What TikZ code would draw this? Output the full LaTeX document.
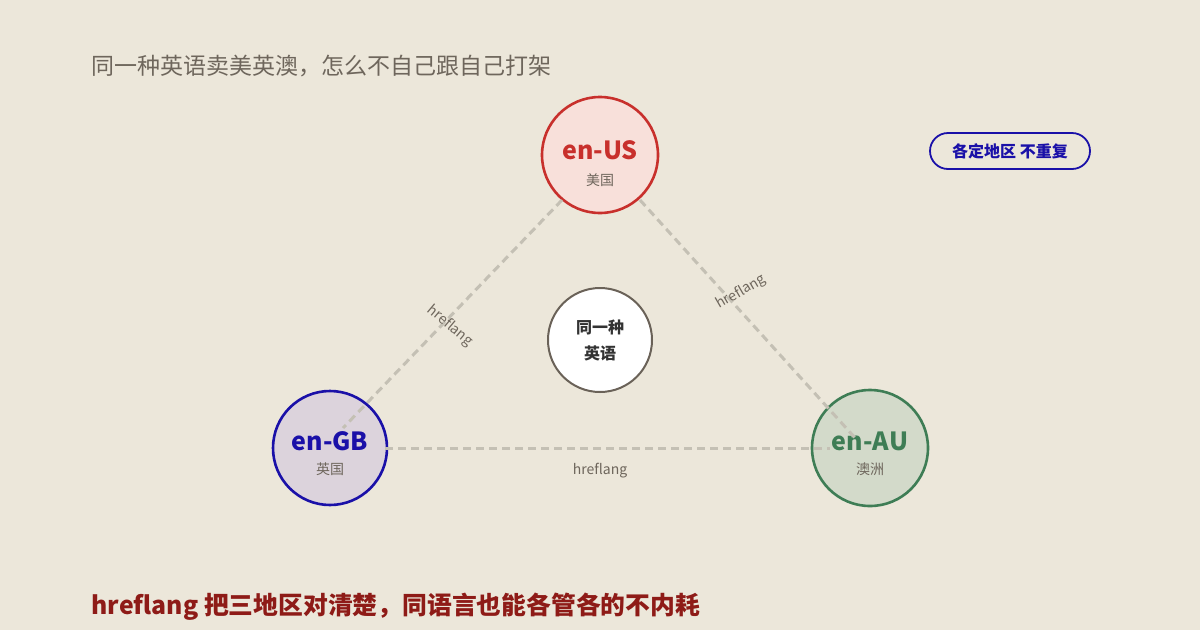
\documentclass[tikz,border=0pt]{standalone}
\usepackage{fontspec}
\setmainfont{Noto Sans CJK SC}
\begin{document}
\begin{tikzpicture}[x=1pt,y=-1pt,
  circ/.style={circle,line width=2.6pt,minimum size=#1,inner sep=0pt,align=center},
  link/.style={draw=linkc,line width=3pt,dash pattern=on 8pt off 5pt},
  lab/.style={text=labc,font=\fontsize{14}{16}\selectfont}]
\definecolor{bg}{HTML}{ECE7DA}
\definecolor{linkc}{HTML}{C4C0B4}
\definecolor{labc}{HTML}{6E665C}
\definecolor{usc}{HTML}{C8302C}\definecolor{usf}{HTML}{F8E0DA}
\definecolor{gbc}{HTML}{1A10A8}\definecolor{gbf}{HTML}{DCD3DC}
\definecolor{auc}{HTML}{3E7D55}\definecolor{auf}{HTML}{D3DACA}
\definecolor{midc}{HTML}{6A6258}
\definecolor{redt}{HTML}{8E1B17}
\fill[bg] (0,0) rectangle (1200,630);
\useasboundingbox (0,0) rectangle (1200,630);
\node[anchor=west,text=labc,font=\fontsize{23}{26}\selectfont] (title) at (88,66) {同一种英语卖美英澳，怎么不自己跟自己打架};
\node[circ=116pt,draw=usc,fill=usf] (us) at (600,155) {};
\node[text=usc,font=\bfseries\fontsize{25}{27}\selectfont] (ust) at (600,150) {en-US};
\node[lab] (usl) at (600,180) {美国};
\node[circ=114pt,draw=gbc,fill=gbf] (gb) at (330,448) {};
\node[text=gbc,font=\bfseries\fontsize{25}{27}\selectfont] (gbt) at (330,441) {en-GB};
\node[lab] (gbl) at (330,469) {英国};
\node[circ=116pt,draw=auc,fill=auf] (au) at (870,448) {};
\node[text=auc,font=\bfseries\fontsize{25}{27}\selectfont] (aut) at (870,441) {en-AU};
\node[lab] (aul) at (870,469) {澳洲};
\node[circ=104pt,draw=midc,fill=white,line width=2pt,font=\bfseries\fontsize{16}{26}\selectfont,text=black!80] (mid) at (600,340) {同一种\\英语};
\coordinate (a1) at (562,200); \coordinate (a2) at (343,428);
\coordinate (b1) at (640,200); \coordinate (b2) at (857,440);
\coordinate (c1) at (385,448); \coordinate (c2) at (830,448);
\draw[link] (a1) -- (a2);
\draw[link] (b1) -- (b2);
\draw[link] (c1) -- (c2);
\node[lab,rotate=-40] (h1) at (450,326) {hreflang};
\node[lab,rotate=30] (h2) at (741,292) {hreflang};
\node[lab] (h3) at (600,471) {hreflang};
\node[draw=gbc,line width=1.8pt,rounded corners=18pt,minimum width=160pt,minimum height=36pt,text=gbc,font=\bfseries\fontsize{16}{18}\selectfont] (badge) at (1010,151) {各定地区 不重复};
\node[anchor=west,text=redt,font=\bfseries\fontsize{24.8}{28}\selectfont] (foot) at (88,607) {hreflang 把三地区对清楚，同语言也能各管各的不内耗};
\end{tikzpicture}
\end{document}
